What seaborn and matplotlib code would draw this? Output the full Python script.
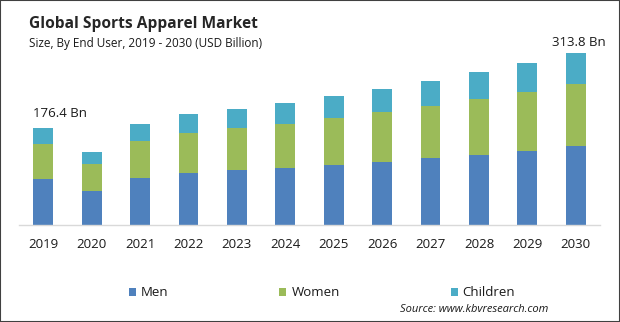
import matplotlib
matplotlib.use("Agg")
import matplotlib.pyplot as plt
import seaborn as sns
import pandas as pd
from matplotlib.patches import Patch, Rectangle

years = ["2019", "2020", "2021", "2022", "2023", "2024",
         "2025", "2026", "2027", "2028", "2029", "2030"]
men = [83.8, 62.0, 85.7, 94.9, 100.3, 104.0, 109.5, 114.9, 122.2, 127.7, 135.0, 144.1]
women = [63.8, 49.3, 67.5, 73.0, 76.6, 80.3, 85.7, 91.2, 94.9, 102.2, 107.6, 113.1]
children = [28.8, 21.9, 31.0, 34.7, 34.7, 38.3, 40.1, 42.0, 45.6, 49.3, 52.9, 56.6]
series_names = ["Men", "Women", "Children"]
first_label = "176.4 Bn"
last_label = "313.8 Bn"

c_men = "#4F81BD"
c_women = "#9BBB59"
c_children = "#4BACC6"

sns.set_theme(style="white")
plt.rcParams['font.family'] = ['Open Sans', 'DejaVu Sans']

fig = plt.figure(figsize=(6.2, 3.22), dpi=100)
ax = fig.add_axes([19 / 620, 1 - 225 / 322, (600 - 19) / 620, 185 / 322])

df = pd.DataFrame({"year": years, "Men": men, "Women": women, "Children": children})
df["mw"] = df["Men"] + df["Women"]
df["total"] = df["mw"] + df["Children"]

kw = dict(width=0.41, saturation=1, linewidth=0, ax=ax)
sns.barplot(data=df, x="year", y="total", color=c_children, **kw)
sns.barplot(data=df, x="year", y="mw", color=c_women, **kw)
sns.barplot(data=df, x="year", y="Men", color=c_men, **kw)

ax.set_xlim(-0.5, 11.5)
ax.set_ylim(0, 337.5)
ax.set_xlabel("")
ax.set_ylabel("")
ax.set_yticks([])
for s in ["top", "left", "right"]:
    ax.spines[s].set_visible(False)
ax.spines["bottom"].set_color("#d9d9d9")
ax.spines["bottom"].set_linewidth(1)
ax.tick_params(axis="x", length=0, pad=9, labelsize=9.5, labelcolor="#1a1a1a")

tot = df["total"].tolist()
ax.text(0 + 0.34, tot[0] + 27, first_label, ha="center", va="center", fontsize=9.5, color="#1a1a1a")
ax.text(11 + 0.07, tot[-1] + 20, last_label, ha="center", va="center", fontsize=9.5, color="#1a1a1a")

fig.text(29 / 620, 1 - 24 / 322, "Global Sports Apparel Market", fontsize=11.2,
         fontweight="bold", color="#262626", ha="left", va="center")
fig.text(29 / 620, 1 - 44 / 322, "Size, By End User, 2019 - 2030 (USD Billion)", fontsize=8.5,
         color="#1a1a1a", ha="left", va="center")

handles = [Patch(facecolor=c, edgecolor="none") for c in (c_men, c_women, c_children)]
fig.legend(handles, series_names, loc="center left", bbox_to_anchor=(129 / 620, 1 - 293 / 322),
           ncol=3, frameon=False, borderpad=0, borderaxespad=0, fontsize=9.5,
           handlelength=0.53, handleheight=0.53, handletextpad=0.38, columnspacing=8.4,
           labelcolor="#1a1a1a")

fig.text(400 / 620, 1 - 309 / 322, "Source: www.kbvresearch.com", fontsize=8, style="italic",
         color="#1a1a1a", ha="left", va="center")

fig.patches.append(Rectangle((0, 0), 1, 1, transform=fig.transFigure, fill=False,
                             edgecolor="#404040", linewidth=1.5, zorder=10))

fig.savefig("out.png", dpi=100)
